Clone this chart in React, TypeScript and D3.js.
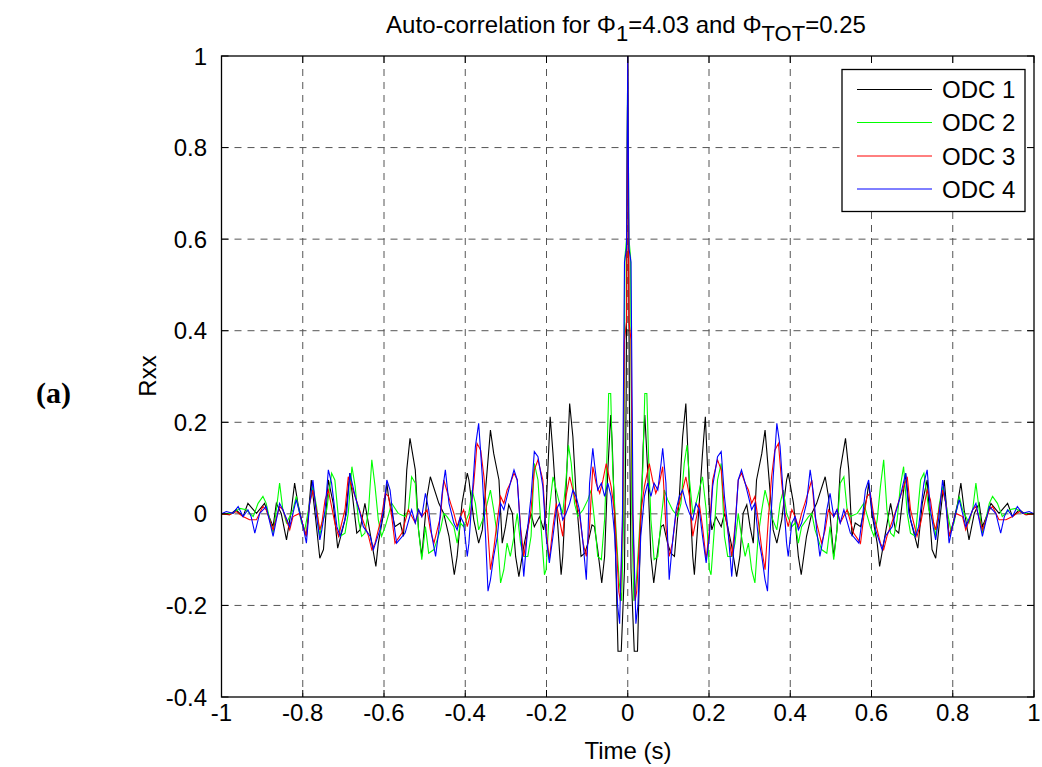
import React from 'react';
import * as d3 from 'd3';

// Auto-correlation is symmetric: values read for t >= 0, mirrored for t < 0
const odc1T = [0,0.004,0.008,0.016,0.024,0.031,0.038,0.042,0.049,0.057,0.064,0.074,0.082,0.088,0.098,0.106,0.115,0.127,0.135,0.143,0.152,0.160,0.164,0.176,0.184,0.191,0.201,0.207,0.217,0.230,0.238,0.246,0.256,0.268,0.276,0.284,0.293,0.301,0.309,0.317,0.330,0.338,0.346,0.358,0.367,0.379,0.391,0.395,0.408,0.420,0.427,0.440,0.453,0.465,0.486,0.494,0.507,0.515,0.523,0.536,0.544,0.552,0.560,0.573,0.589,0.593,0.601,0.614,0.620,0.630,0.647,0.659,0.667,0.684,0.696,0.714,0.725,0.737,0.749,0.758,0.768,0.779,0.791,0.799,0.812,0.820,0.828,0.840,0.853,0.865,0.873,0.886,0.894,0.914,0.935,0.947,0.964,0.980,1.0];
const odc1V = [1,0.25,-0.12,-0.30,-0.30,-0.05,0.15,0.216,0.096,-0.093,-0.151,-0.078,-0.028,-0.024,-0.064,-0.086,-0.093,0.038,0.168,0.241,0.052,-0.093,-0.133,0.023,0.132,0.212,0.009,-0.035,-0.006,-0.028,0.001,-0.028,-0.071,-0.137,-0.093,0.001,0.020,-0.028,-0.064,0.074,0.132,0.183,0.096,-0.035,-0.064,-0.013,0.074,0.089,0.023,-0.093,-0.133,-0.049,0.001,0.023,0.081,0.038,-0.093,-0.035,0.096,0.165,0.096,-0.049,-0.020,-0.028,0.038,0.067,0.001,-0.064,-0.115,-0.064,0.023,-0.035,-0.042,0.089,-0.013,-0.075,0.023,0.074,-0.078,-0.097,-0.013,0.074,-0.049,-0.028,0.023,0.067,0.009,-0.057,0.001,0.023,-0.028,0.001,0.023,0.001,0.023,-0.006,0.009,-0.002,0];

const odc2T = [0,0.003,0.007,0.010,0.015,0.021,0.028,0.037,0.042,0.047,0.051,0.057,0.065,0.074,0.082,0.090,0.098,0.110,0.123,0.131,0.139,0.146,0.152,0.160,0.168,0.176,0.184,0.193,0.201,0.205,0.213,0.221,0.230,0.238,0.246,0.256,0.264,0.272,0.280,0.289,0.297,0.305,0.313,0.321,0.330,0.338,0.346,0.354,0.367,0.375,0.383,0.391,0.404,0.412,0.420,0.428,0.445,0.453,0.461,0.477,0.490,0.498,0.507,0.515,0.523,0.532,0.540,0.548,0.565,0.581,0.597,0.606,0.614,0.622,0.630,0.638,0.647,0.655,0.663,0.671,0.679,0.688,0.696,0.708,0.721,0.729,0.741,0.753,0.758,0.766,0.775,0.783,0.795,0.803,0.816,0.824,0.840,0.849,0.857,0.865,0.873,0.881,0.890,0.898,0.910,0.922,0.939,0.955,0.972,1.0];
const odc2V = [1,0.60,0.56,0.0,-0.19,-0.15,-0.049,0.096,0.263,0.263,0.132,-0.013,-0.100,-0.093,-0.013,0.052,0.031,0.009,-0.006,0.023,0.110,0.150,0.074,0.001,0.023,0.052,0.081,0.009,-0.122,-0.133,-0.035,0.074,0.110,-0.049,-0.093,-0.093,-0.064,0.001,-0.049,-0.093,-0.064,-0.122,-0.151,-0.049,0.009,0.052,0.023,-0.006,-0.035,0.023,0.052,0.001,-0.028,-0.020,-0.064,-0.028,-0.006,0.001,-0.035,-0.078,-0.086,-0.028,-0.100,-0.035,0.067,0.081,0.009,-0.006,0.001,0.023,-0.028,-0.049,-0.013,0.060,0.118,0.009,-0.042,-0.049,-0.013,0.060,0.103,0.001,-0.042,-0.049,0.074,0.089,0.009,-0.020,-0.049,0.016,0.060,0.023,-0.035,-0.020,0.038,0.009,-0.020,0.009,0.067,0.009,-0.042,-0.013,0.023,0.038,0.023,-0.006,0.009,0.012,0.001,0];

const odc3T = [0,0.003,0.008,0.012,0.018,0.022,0.032,0.041,0.053,0.061,0.069,0.078,0.086,0.094,0.102,0.110,0.119,0.127,0.135,0.143,0.152,0.160,0.168,0.176,0.184,0.193,0.201,0.209,0.221,0.230,0.238,0.246,0.256,0.264,0.272,0.280,0.289,0.297,0.305,0.313,0.321,0.330,0.338,0.346,0.354,0.362,0.371,0.379,0.387,0.395,0.404,0.412,0.420,0.428,0.436,0.453,0.461,0.477,0.486,0.494,0.507,0.515,0.523,0.540,0.556,0.573,0.581,0.589,0.597,0.606,0.622,0.630,0.638,0.655,0.671,0.688,0.696,0.712,0.721,0.737,0.745,0.753,0.758,0.766,0.775,0.783,0.791,0.808,0.824,0.832,0.849,0.857,0.873,0.890,0.898,0.914,0.931,0.947,0.964,0.980,1.0];
const odc3V = [1,0.42,0.38,0.0,-0.19,-0.17,0.001,0.060,0.110,0.074,0.045,0.067,0.103,-0.028,-0.093,-0.064,0.001,0.023,0.052,0.081,0.038,-0.049,-0.013,0.023,-0.028,-0.100,-0.035,0.074,0.118,0.096,0.009,-0.035,-0.093,-0.028,0.074,0.089,0.067,0.052,0.023,0.038,-0.013,-0.078,-0.122,-0.013,0.081,0.139,0.154,0.067,0.001,-0.028,0.009,-0.006,-0.028,0.001,0.023,0.074,-0.006,-0.064,-0.035,0.009,-0.006,0.009,-0.020,0.009,-0.042,-0.064,-0.006,0.038,0.045,-0.006,-0.064,-0.078,-0.049,-0.006,0.038,0.081,0.009,-0.049,-0.020,0.052,0.031,-0.020,-0.035,0.009,0.052,0.023,-0.049,0.001,-0.006,-0.035,0.009,0.016,-0.035,0.009,0.016,-0.013,-0.013,-0.006,0.005,-0.002,0];

const odc4T = [0,0.003,0.008,0.013,0.020,0.025,0.032,0.041,0.049,0.057,0.065,0.074,0.082,0.086,0.094,0.098,0.102,0.110,0.119,0.127,0.135,0.143,0.152,0.160,0.168,0.176,0.184,0.193,0.201,0.209,0.221,0.230,0.238,0.246,0.256,0.264,0.272,0.280,0.289,0.297,0.305,0.313,0.321,0.330,0.338,0.344,0.350,0.358,0.367,0.375,0.383,0.391,0.395,0.404,0.412,0.420,0.428,0.440,0.449,0.457,0.465,0.473,0.482,0.490,0.498,0.507,0.515,0.523,0.532,0.548,0.569,0.577,0.585,0.593,0.601,0.610,0.626,0.634,0.651,0.659,0.671,0.684,0.692,0.708,0.716,0.729,0.737,0.745,0.753,0.758,0.766,0.775,0.783,0.791,0.799,0.816,0.832,0.849,0.857,0.873,0.890,0.906,0.918,0.927,0.935,0.947,0.959,0.972,0.988,1.0];
const odc4V = [1,0.58,0.55,0.0,-0.24,-0.20,-0.049,0.038,0.067,0.038,0.067,0.052,0.110,0.143,0.067,-0.049,-0.144,-0.064,0.009,0.038,0.052,0.023,0.001,-0.013,0.023,0.009,-0.049,-0.107,-0.049,0.060,0.125,0.136,0.038,-0.028,-0.137,-0.035,0.074,0.096,0.067,0.038,0.009,0.023,-0.049,-0.093,-0.144,-0.169,-0.049,0.081,0.198,0.147,0.038,-0.064,-0.093,-0.020,-0.006,-0.035,-0.020,0.023,0.096,0.045,-0.035,-0.093,-0.049,0.009,0.045,-0.006,0.009,-0.020,0.009,-0.042,-0.064,-0.013,0.052,0.074,0.009,-0.035,-0.078,-0.049,-0.028,0.001,0.038,0.089,0.001,-0.049,-0.028,0.067,0.096,0.009,-0.035,-0.057,-0.006,0.074,0.023,-0.064,-0.028,0.031,-0.028,0.009,0.023,-0.049,0.016,0.001,-0.042,-0.006,0.009,-0.006,0.016,0.001,0.005,0];

const seriesNames = ['ODC 1', 'ODC 2', 'ODC 3', 'ODC 4'];
const seriesColors = ['#000000', '#00ff00', '#ff0000', '#0000ff'];
const xTicks = [-1, -0.8, -0.6, -0.4, -0.2, 0, 0.2, 0.4, 0.6, 0.8, 1];
const yTicks = [-0.4, -0.2, 0, 0.2, 0.4, 0.6, 0.8, 1];

const W = 1042, H = 767;
const L = 221.5, R = 1034, T = 56, B = 697;
const FONT = '"Liberation Sans", Arial, Helvetica, sans-serif';

function fullSeries(t: number[], v: number[]): [number, number][] {
  const pts: [number, number][] = [];
  for (let i = t.length - 1; i >= 1; i--) pts.push([-t[i], v[i]]);
  for (let i = 0; i < t.length; i++) pts.push([t[i], v[i]]);
  return pts;
}

export default function App() {
  const x = d3.scaleLinear().domain([-1, 1]).range([L, R]);
  const y = d3.scaleLinear().domain([-0.4, 1]).range([B, T]);
  const line = d3.line<[number, number]>().x(d => x(d[0])).y(d => y(d[1]));
  const data = [
    fullSeries(odc1T, odc1V),
    fullSeries(odc2T, odc2V),
    fullSeries(odc3T, odc3V),
    fullSeries(odc4T, odc4V),
  ];
  const grid = '#555';
  const tickLen = 7;
  const legX = 842, legY = 69.5, legW = 183, legH = 142;
  const rowYs = [89.5, 122.5, 156, 189];

  return (
    <svg width={W} height={H} style={{ position: 'absolute', left: 0, top: 0, background: '#fff' }}
      fontFamily={FONT}>
      <rect x={0} y={0} width={W} height={H} fill="#fff" />
      <defs>
        <clipPath id="clip"><rect x={L} y={T} width={R - L} height={B - T} /></clipPath>
      </defs>
      {/* grid */}
      {xTicks.filter(t => t > -1 && t < 1).map(t => (
        <line key={'gx' + t} x1={x(t)} x2={x(t)} y1={T} y2={B} stroke={grid} strokeWidth={1} strokeDasharray="7,6" />
      ))}
      {yTicks.filter(t => t > -0.4 && t < 1).map(t => (
        <line key={'gy' + t} x1={L} x2={R} y1={y(t)} y2={y(t)} stroke={grid} strokeWidth={1} strokeDasharray="7,6" />
      ))}
      {/* series */}
      <g clipPath="url(#clip)">
        {data.map((d, i) => (
          <path key={i} d={line(d) || ''} fill="none" stroke={seriesColors[i]} strokeWidth={1.1} />
        ))}
      </g>
      {/* axes box */}
      <rect x={L} y={T} width={R - L} height={B - T} fill="none" stroke="#000" strokeWidth={1.3} />
      {/* ticks */}
      {xTicks.map(t => (
        <g key={'tx' + t}>
          <line x1={x(t)} x2={x(t)} y1={B} y2={B - tickLen} stroke="#000" />
          <line x1={x(t)} x2={x(t)} y1={T} y2={T + tickLen} stroke="#000" />
          <text x={x(t)} y={721} textAnchor="middle" fontSize={24}>{String(t)}</text>
        </g>
      ))}
      {yTicks.map(t => (
        <g key={'ty' + t}>
          <line x1={L} x2={L + tickLen} y1={y(t)} y2={y(t)} stroke="#000" />
          <line x1={R} x2={R - tickLen} y1={y(t)} y2={y(t)} stroke="#000" />
          <text x={207} y={y(t) + 8.5} textAnchor="end" fontSize={24}>{String(t)}</text>
        </g>
      ))}
      {/* legend */}
      <rect x={legX} y={legY} width={legW} height={legH} fill="#fff" stroke="#000" strokeWidth={1.3} />
      {seriesNames.map((n, i) => (
        <g key={n}>
          <line x1={857} x2={932} y1={rowYs[i]} y2={rowYs[i]} stroke={seriesColors[i]} strokeWidth={1} />
          <text x={942} y={rowYs[i] + 8.5} fontSize={24}>{n}</text>
        </g>
      ))}
      {/* title */}
      <text x={626} y={33} textAnchor="middle" fontSize={24}>
        Auto-correlation for Φ<tspan dy={8} fontSize={22}>1</tspan><tspan dy={-8}>=4.03 and Φ</tspan><tspan dy={8} fontSize={22}>TOT</tspan><tspan dy={-8}>=0.25</tspan>
      </text>
      {/* axis labels */}
      <text x={628} y={759} textAnchor="middle" fontSize={24}>Time (s)</text>
      <text transform="translate(156,376) rotate(-90)" textAnchor="middle" fontSize={24}>Rxx</text>
      <text x={36} y={403} fontSize={30} fontWeight="bold" fontFamily='"Liberation Serif", "Times New Roman", serif'>(a)</text>
    </svg>
  );
}
